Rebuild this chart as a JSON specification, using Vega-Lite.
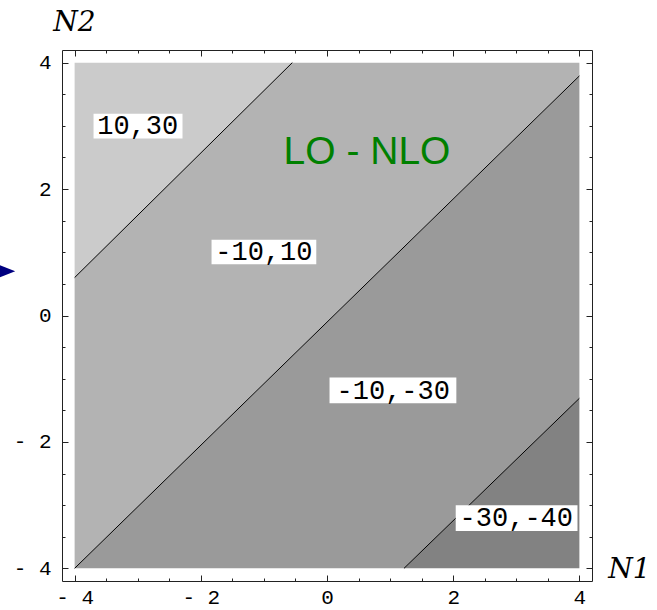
{
  "$schema": "https://vega.github.io/schema/vega-lite/v6.json",
  "width": 530,
  "height": 531,
  "autosize": "none",
  "padding": {"left": 62, "top": 50, "right": 65, "bottom": 29},
  "background": "white",
  "config": {
    "view": {"stroke": "#222222", "strokeWidth": 1}
  },
  "datasets": {
    "regions": [
      {"region": "A", "x": -4, "lo": 0.6, "hi": 4},
      {"region": "A", "x": -0.55, "lo": 4, "hi": 4},
      {"region": "B", "x": -4, "lo": -4, "hi": 0.6},
      {"region": "B", "x": -0.55, "lo": -0.64, "hi": 4},
      {"region": "B", "x": 4, "lo": 3.79, "hi": 4},
      {"region": "C", "x": -4, "lo": -4, "hi": -4},
      {"region": "C", "x": 1.22, "lo": -4, "hi": 1.08},
      {"region": "C", "x": 4, "lo": -1.31, "hi": 3.79},
      {"region": "D", "x": 1.22, "lo": -4, "hi": -4},
      {"region": "D", "x": 4, "lo": -4, "hi": -1.31}
    ],
    "contours": [
      {"line": 1, "x": -4, "y": 0.6},
      {"line": 1, "x": -0.55, "y": 4},
      {"line": 2, "x": -4, "y": -4},
      {"line": 2, "x": 4, "y": 3.79},
      {"line": 3, "x": 1.22, "y": -4},
      {"line": 3, "x": 4, "y": -1.31}
    ],
    "labels": [
      {"text": "10,30", "x": -3.0, "y": 3.0, "left": -3.70, "right": -2.29, "bottom": 2.80, "top": 3.19},
      {"text": "-10,10", "x": -1.0, "y": 1.0, "left": -1.83, "right": -0.17, "bottom": 0.81, "top": 1.20},
      {"text": "-10,-30", "x": 1.05, "y": -1.19, "left": 0.04, "right": 2.05, "bottom": -1.39, "top": -0.98},
      {"text": "-30,-40", "x": 3.0, "y": -3.21, "left": 2.04, "right": 3.97, "bottom": -3.41, "top": -3.0}
    ],
    "heading": [
      {"text": "LO - NLO", "x": 0.634, "y": 2.40}
    ],
    "arrow": [
      {"x": -5.10, "y": 0.70}
    ]
  },
  "resolve": {"axis": {"x": "independent", "y": "independent"}},
  "layer": [
    {
      "data": {"name": "regions"},
      "mark": {"type": "area", "interpolate": "linear", "opacity": 1},
      "encoding": {
        "x": {
          "field": "x", "type": "quantitative",
          "scale": {"domain": [-4.2, 4.2], "nice": false, "zero": false},
          "axis": {
            "orient": "bottom",
            "values": [-4, -3.5, -3, -2.5, -2, -1.5, -1, -0.5, 0, 0.5, 1, 1.5, 2, 2.5, 3, 3.5, 4],
            "labelExpr": "datum.value % 2 == 0 ? (datum.value < 0 ? '- ' + abs(datum.value) : '' + datum.value) : ''",
            "tickSize": {"condition": {"test": "datum.value % 2 == 0", "value": -6}, "value": -3},
            "tickColor": "#222222",
            "tickWidth": 1,
            "domain": false,
            "grid": false,
            "labelFont": "Liberation Mono",
            "labelFontSize": 21,
            "labelColor": "#000000",
            "labelPadding": 11,
            "labelFlush": false,
            "labelOverlap": false,
            "labelBound": false,
            "labelBaseline": "top",
            "title": "N1",
            "titleFont": "DejaVu Serif",
            "titleFontStyle": "italic",
            "titleFontWeight": "normal",
            "titleFontSize": 28,
            "titleColor": "#000000",
            "titleAngle": 0,
            "titleAlign": "center",
            "titleBaseline": "alphabetic",
            "titleX": 567,
            "titleY": -4
          }
        },
        "y": {
          "field": "lo", "type": "quantitative", "stack": null,
          "scale": {"domain": [-4.2, 4.2], "nice": false, "zero": false},
          "axis": {
            "orient": "left",
            "values": [-4, -3.5, -3, -2.5, -2, -1.5, -1, -0.5, 0, 0.5, 1, 1.5, 2, 2.5, 3, 3.5, 4],
            "labelExpr": "datum.value % 2 == 0 ? (datum.value < 0 ? '- ' + abs(datum.value) : '' + datum.value) : ''",
            "tickSize": {"condition": {"test": "datum.value % 2 == 0", "value": -6}, "value": -3},
            "tickColor": "#222222",
            "tickWidth": 1,
            "domain": false,
            "grid": false,
            "labelFont": "Liberation Mono",
            "labelFontSize": 21,
            "labelColor": "#000000",
            "labelPadding": 17,
            "labelFlush": false,
            "labelOverlap": false,
            "labelBound": false,
            "labelBaseline": "middle",
            "title": "N2",
            "titleFont": "DejaVu Serif",
            "titleFontStyle": "italic",
            "titleFontWeight": "normal",
            "titleFontSize": 28,
            "titleColor": "#000000",
            "titleAngle": 0,
            "titleAlign": "center",
            "titleBaseline": "alphabetic",
            "titleX": 12,
            "titleY": -20
          }
        },
        "y2": {"field": "hi"},
        "color": {
          "field": "region", "type": "nominal",
          "scale": {"domain": ["A", "B", "C", "D"], "range": ["#cbcbcb", "#b3b3b3", "#9a9a9a", "#828282"]},
          "legend": null
        }
      }
    },
    {
      "data": {"name": "contours"},
      "mark": {"type": "line", "color": "#000000", "strokeWidth": 1},
      "encoding": {
        "x": {
          "field": "x", "type": "quantitative",
          "scale": {"domain": [-4.2, 4.2], "nice": false, "zero": false},
          "axis": {
            "orient": "top",
            "values": [-4, -3.5, -3, -2.5, -2, -1.5, -1, -0.5, 0, 0.5, 1, 1.5, 2, 2.5, 3, 3.5, 4],
            "labels": false,
            "tickSize": {"condition": {"test": "datum.value % 2 == 0", "value": -6}, "value": -3},
            "tickColor": "#222222",
            "tickWidth": 1,
            "domain": false,
            "grid": false,
            "title": null
          }
        },
        "y": {
          "field": "y", "type": "quantitative",
          "scale": {"domain": [-4.2, 4.2], "nice": false, "zero": false},
          "axis": {
            "orient": "right",
            "values": [-4, -3.5, -3, -2.5, -2, -1.5, -1, -0.5, 0, 0.5, 1, 1.5, 2, 2.5, 3, 3.5, 4],
            "labels": false,
            "tickSize": {"condition": {"test": "datum.value % 2 == 0", "value": -6}, "value": -3},
            "tickColor": "#222222",
            "tickWidth": 1,
            "domain": false,
            "grid": false,
            "title": null
          }
        },
        "detail": {"field": "line", "type": "nominal"}
      }
    },
    {
      "data": {"name": "labels"},
      "mark": {"type": "rect", "fill": "#ffffff", "stroke": null},
      "encoding": {
        "x": {"field": "left", "type": "quantitative", "axis": null},
        "x2": {"field": "right"},
        "y": {"field": "bottom", "type": "quantitative", "axis": null},
        "y2": {"field": "top"}
      }
    },
    {
      "data": {"name": "labels"},
      "mark": {"type": "text", "font": "Liberation Mono", "fontSize": 27, "color": "#000000", "align": "center", "baseline": "middle"},
      "encoding": {
        "x": {"field": "x", "type": "quantitative", "axis": null},
        "y": {"field": "y", "type": "quantitative", "axis": null},
        "text": {"field": "text", "type": "nominal"}
      }
    },
    {
      "data": {"name": "heading"},
      "mark": {"type": "text", "font": "Liberation Sans", "fontSize": 39, "color": "#008000", "align": "center", "baseline": "alphabetic"},
      "encoding": {
        "x": {"field": "x", "type": "quantitative", "axis": null},
        "y": {"field": "y", "type": "quantitative", "axis": null},
        "text": {"field": "text", "type": "nominal"}
      }
    },
    {
      "data": {"name": "arrow"},
      "mark": {"type": "point", "shape": "M 1,0 L -1,-0.8 L -1,0.8 Z", "size": 400, "filled": true, "color": "#000080", "opacity": 1, "clip": false},
      "encoding": {
        "x": {"field": "x", "type": "quantitative", "axis": null},
        "y": {"field": "y", "type": "quantitative", "axis": null}
      }
    }
  ]
}
